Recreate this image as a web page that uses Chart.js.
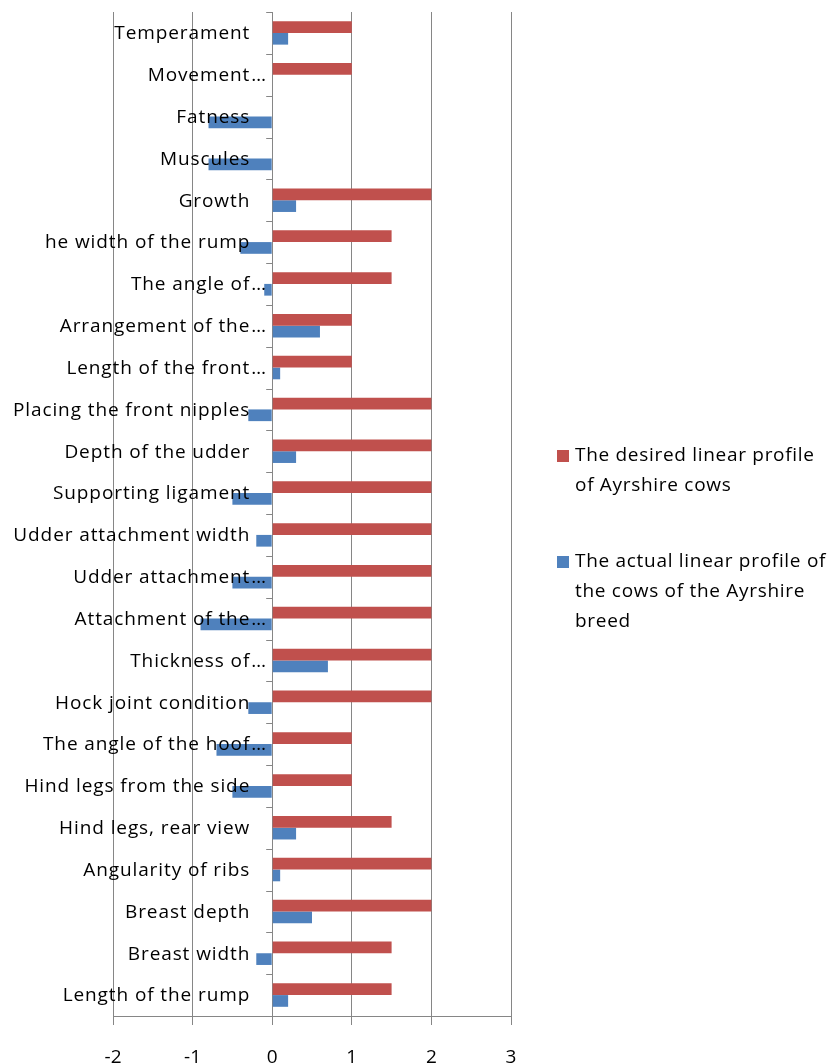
<!DOCTYPE html>
<html>
<head>
<meta charset="utf-8">
<script src="https://cdn.jsdelivr.net/npm/chart.js@4"></script>
<style>
  html, body { margin: 0; padding: 0; background: #fff; }
  #wrap { width: 829px; height: 1064px; position: relative; }
</style>
</head>
<body>
<div id="wrap"><canvas id="chart"></canvas></div>
<script>
// data, top to bottom
const categories = [
  'Temperament', 'Movement…', 'Fatness', 'Muscules', 'Growth',
  'he width of the rump', 'The angle of…', 'Arrangement of the…',
  'Length of the front…', 'Placing the front nipples', 'Depth of the udder',
  'Supporting ligament', 'Udder attachment width', 'Udder attachment…',
  'Attachment of the…', 'Thickness of…', 'Hock joint condition',
  'The angle of the hoof…', 'Hind legs from the side', 'Hind legs, rear view',
  'Angularity of ribs', 'Breast depth', 'Breast width', 'Length of the rump'
];
const desired = [1, 1, 0, 0, 2, 1.5, 1.5, 1, 1, 2, 2, 2, 2, 2, 2, 2, 2, 1, 1, 1.5, 2, 2, 1.5, 1.5];
const actual = [0.2, 0, -0.8, -0.8, 0.3, -0.4, -0.1, 0.6, 0.1, -0.3, 0.3, -0.5, -0.2, -0.5, -0.9, 0.7, -0.3, -0.7, -0.5, 0.3, 0.1, 0.5, -0.2, 0.2];
const xMin = -2;
const xMax = 3;
const seriesNames = [
  ['The desired linear profile', 'of Ayrshire cows'],
  ['The actual linear profile of', 'the cows of the Ayrshire', 'breed']
];

const RED = '#C0504D';
const BLUE = '#4F81BD';
const GRID = '#868686';
const FONT = '"Open Sans", sans-serif';

// category labels sit next to the zero line, plus the little ticks and the legend
const sideDraw = {
  id: 'sideDraw',
  afterDraw(chart) {
    const { ctx, scales } = chart;
    const x = scales.x, y = scales.y;
    const x0 = x.getPixelForValue(0);
    const band = (y.bottom - y.top) / categories.length;
    ctx.save();

    // tick marks on the zero axis at category boundaries
    ctx.strokeStyle = GRID;
    ctx.lineWidth = 1;
    ctx.beginPath();
    for (let i = 0; i <= categories.length; i++) {
      const yy = Math.round(y.top + i * band) + 0.5;
      ctx.moveTo(x0 - 6, yy);
      ctx.lineTo(x0, yy);
    }
    ctx.stroke();

    ctx.font = '19px ' + FONT;
    ctx.letterSpacing = '0.9px';
    ctx.fillStyle = '#000';
    ctx.textBaseline = 'middle';
    const right = x0 - 22;
    categories.forEach((lab, i) => {
      const yy = y.getPixelForValue(i) + 1;
      if (lab.endsWith('…')) {
        const base = lab.slice(0, -1);
        ctx.textAlign = 'right';
        ctx.fillText(base, right, yy);
        ctx.textAlign = 'left';
        ctx.fillText('…', right + 1, yy);
      } else {
        ctx.textAlign = 'right';
        ctx.fillText(lab, right, yy);
      }
    });

    // legend
    const colors = [RED, BLUE];
    const starts = [456, 562];
    ctx.textAlign = 'left';
    ctx.letterSpacing = '0.7px';
    seriesNames.forEach((lines, k) => {
      ctx.fillStyle = colors[k];
      ctx.fillRect(557, starts[k] - 6, 12, 12);
      ctx.fillStyle = '#000';
      lines.forEach((ln, j) => ctx.fillText(ln, 575, starts[k] + j * 30));
    });
    ctx.restore();
  }
};

new Chart(document.getElementById('chart'), {
  type: 'bar',
  data: {
    labels: categories,
    datasets: [
      { label: seriesNames[0].join(' '), data: desired, backgroundColor: RED },
      { label: seriesNames[1].join(' '), data: actual, backgroundColor: BLUE }
    ]
  },
  options: {
    indexAxis: 'y',
    responsive: true,
    maintainAspectRatio: false,
    animation: false,
    categoryPercentage: 0.56,
    barPercentage: 1,
    layout: { padding: { left: 113, right: 318, top: 12, bottom: 0 } },
    scales: {
      x: {
        type: 'linear',
        min: xMin,
        max: xMax,
        afterFit(scale) { scale.height = 48; },
        ticks: {
          stepSize: 1,
          color: '#000',
          font: { family: FONT, size: 19 },
          padding: 21
        },
        grid: { color: GRID, tickLength: 9, drawTicks: true },
        border: { color: GRID }
      },
      y: { display: false }
    },
    plugins: {
      legend: { display: false },
      tooltip: { enabled: false }
    }
  },
  plugins: [sideDraw]
});
</script>
</body>
</html>
